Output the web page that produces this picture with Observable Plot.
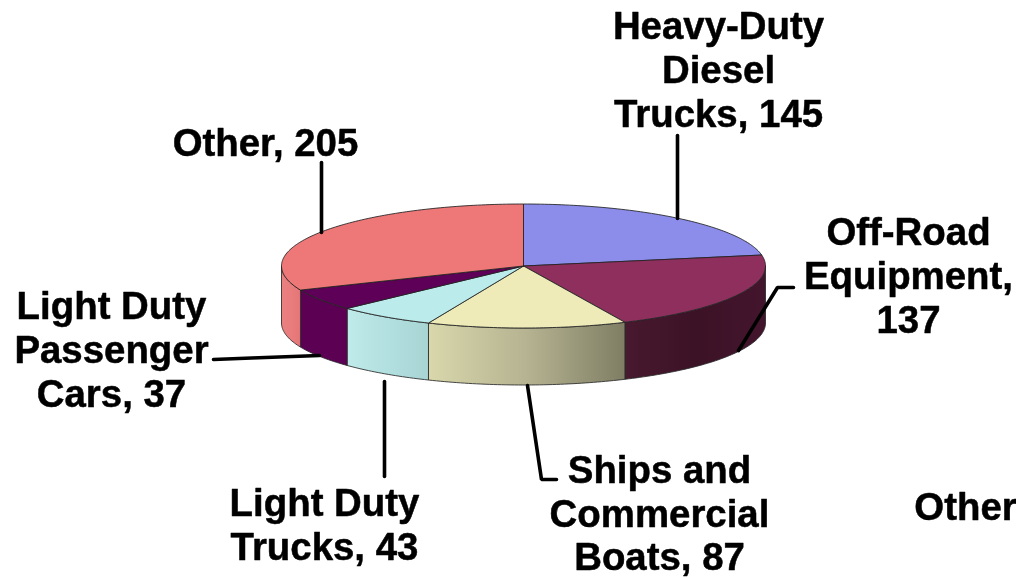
<!DOCTYPE html>
<html>
<head>
<meta charset="utf-8">
<script src="https://cdn.jsdelivr.net/npm/d3@7"></script>
<script src="https://cdn.jsdelivr.net/npm/@observablehq/plot@0.6"></script>
<style>
html,body{margin:0;padding:0;background:#fff;overflow:hidden}
svg{display:block;filter:blur(0.45px)}
</style>
</head>
<body>
<div id="chart"></div>
<script>
// Data (clockwise from 12 o'clock)
const categories = ["Heavy-Duty Diesel Trucks", "Off-Road Equipment", "Ships and Commercial Boats", "Light Duty Trucks", "Light Duty Passenger Cars", "Other"];
const values = [145, 137, 87, 43, 37, 205];
const topColors = ["#8c8ceb", "#8f2f5e", "#eeebb9", "#bcebeb", "#5e0058", "#ee7777"];
const wallLeft = ["#8c8ceb", "#43152d", "#d9d7ab", "#bfebea", "#5c0054", "#ea8080"];
const wallMid = ["#8c8ceb", "#3c1226", "#b5b391", "#b2dfdf", "#5c0054", "#e97c7c"];
const wallRight = ["#8c8ceb", "#48192f", "#7f7e64", "#a8d4d4", "#5c0054", "#e47676"];

// Label text and placement
const labelTexts = ["Heavy-Duty\nDiesel\nTrucks, 145", "Off-Road\nEquipment,\n137", "Ships and\nCommercial\nBoats, 87", "Light Duty\nTrucks, 43", "Light Duty\nPassenger\nCars, 37", "Other, 205", "Other"];
const labelX = [718, 908, 659, 324, 111, 265, 965];
const labelY = [68.5, 274.5, 512, 523.5, 348.5, 141.5, 505.5];

// Leader lines
const leaderLines = [
  [[677, 135], [677, 218]],
  [[738, 350], [777, 287], [793, 287]],
  [[527, 385], [541, 479], [556, 479]],
  [[384, 381], [384, 476]],
  [[213, 359], [319, 355]],
  [[321, 162], [321, 232]]
];

// Pie geometry
const cx = 523, cy = 265.5, rx = 242, ry = 62, depth = 57;
const total = d3.sum(values);
const cum = d3.cumsum(values);
const toAngle = v => (v / total) * 2 * Math.PI;
const pt = (a, dy = 0) => ({x: cx + rx * Math.sin(a), y: cy - ry * Math.cos(a) + dy});
const arc = (a0, a1) => {
  const n = Math.max(2, Math.ceil(Math.abs(a1 - a0) / (Math.PI / 180)));
  return d3.range(n + 1).map(i => a0 + (a1 - a0) * i / n);
};

const slices = values.map((v, i) => ({i, a0: toAngle(i ? cum[i - 1] : 0), a1: toAngle(cum[i])}));

const topShape = s => [{x: cx, y: cy}, ...arc(s.a0, s.a1).map(a => pt(a)), {x: cx, y: cy}];
const wallShape = s => {
  const a0 = Math.max(s.a0, Math.PI / 2), a1 = Math.min(s.a1, 3 * Math.PI / 2);
  if (a1 <= a0) return null;
  const as = arc(a0, a1);
  const up = as.map(a => pt(a));
  const down = as.slice().reverse().map(a => pt(a, depth));
  return [...up, ...down, up[0]];
};

// gradient definitions: the x-direction runs screen left to right across each wall
const defs = () => {
  const d = d3.create("svg:defs");
  slices.forEach(s => {
    const g = d.append("linearGradient").attr("id", "wall" + s.i);
    g.append("stop").attr("offset", "0%").attr("stop-color", s.i === 1 ? wallRight[s.i] : wallLeft[s.i]);
    g.append("stop").attr("offset", "50%").attr("stop-color", wallMid[s.i]);
    g.append("stop").attr("offset", "100%").attr("stop-color", s.i === 1 ? wallLeft[s.i] : wallRight[s.i]);
  });
  return d.node();
};

const line = (pts, o) => Plot.line(pts, {x: "x", y: "y", ...o});

// walls are ordered back to front
const wallMarks = slices.map(s => [s, wallShape(s)]).filter(d => d[1]).map(([s, pts]) =>
  line(pts, {fill: `url(#wall${s.i})`, stroke: "#2a2a2a", strokeWidth: 1, strokeLinejoin: "round", strokeOpacity: 0.85}));
const topMarks = slices.map(s =>
  line(topShape(s), {fill: topColors[s.i], stroke: "#222", strokeWidth: 1, strokeLinejoin: "round", strokeOpacity: 0.85}));
const leaderMarks = leaderLines.map(l =>
  Plot.line(l, {x: d => d[0], y: d => d[1], stroke: "#000", strokeWidth: 3.6, strokeLinejoin: "miter"}));

const labels = labelTexts.map((t, i) => ({t, x: labelX[i], y: labelY[i]}));

const chart = Plot.plot({
  width: 1016, height: 578,
  margin: 0,
  style: {background: "#fff"},
  x: {domain: [0, 1016], range: [0, 1016], axis: null},
  y: {domain: [0, 578], range: [0, 578], axis: null},
  marks: [
    defs,
    ...wallMarks,
    ...topMarks,
    ...leaderMarks,
    Plot.text(labels, {
      x: "x", y: "y", text: "t",
      fontSize: 38.4, fontWeight: 700, fontFamily: "'Liberation Sans', Arial, sans-serif",
      fill: "#000", stroke: "#000", strokeWidth: 0.5, lineHeight: 1.143, lineAnchor: "middle", textAnchor: "middle"
    })
  ]
});
document.getElementById("chart").appendChild(chart);
</script>
</body>
</html>
